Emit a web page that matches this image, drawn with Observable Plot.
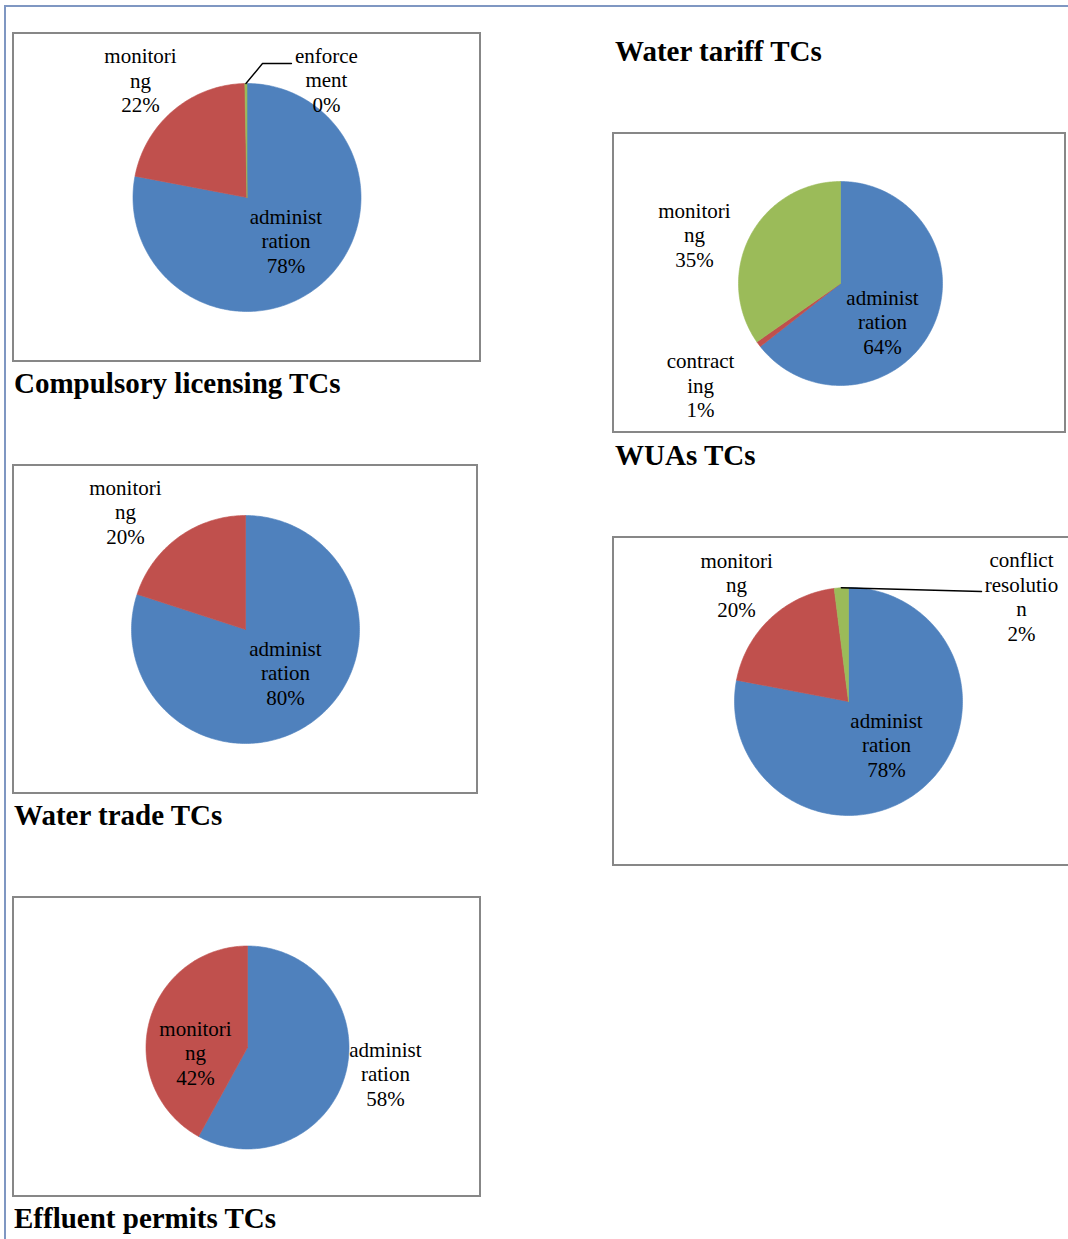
<!DOCTYPE html>
<html>
<head>
<meta charset="utf-8">
<script src="https://cdn.jsdelivr.net/npm/d3@7"></script>
<script src="https://cdn.jsdelivr.net/npm/@observablehq/plot@0.6"></script>
<style>
  html, body { margin: 0; padding: 0; background: #fff; }
  #page { position: relative; width: 1068px; height: 1239px; overflow: hidden; background: #fff; }
  .frame { position: absolute; left: 4px; top: 5px; width: 1100px; height: 1300px;
           border-top: 2px solid #7f97c2; border-left: 2px solid #7f97c2; box-sizing: border-box; }
  .box { position: absolute; border: 2px solid #878787; box-sizing: border-box; background: #fff; }
  .box svg { position: absolute; left: 0; top: 0; }
  .title { position: absolute; font-family: "Liberation Serif", "Times New Roman", serif;
           font-weight: bold; font-size: 29px; line-height: 29px; color: #000; white-space: nowrap; }
</style>
</head>
<body>
<div id="page"><div class="frame"></div></div>
<script>
// ---------------- data ----------------
const seriesColors = ["#4F81BD", "#C0504D", "#9BBB59"];

// Compulsory licensing TCs
const clCategories = ["administ\nration", "monitori\nng", "enforce\nment"];
const clValues = [78, 21.7, 0.3];

// Water trade TCs
const wtCategories = ["administ\nration", "monitori\nng"];
const wtValues = [80, 20];

// Effluent permits TCs
const epCategories = ["administ\nration", "monitori\nng"];
const epValues = [58, 42];

// WUAs TCs
const wuCategories = ["administ\nration", "contract\ning", "monitori\nng"];
const wuValues = [64.4, 0.9, 34.7];

// Water tariff TCs
const tfCategories = ["administ\nration", "monitori\nng", "conflict\nresolutio\nn"];
const tfValues = [78, 20, 2];

// titles
const titles = ["Compulsory licensing TCs", "Water trade TCs", "Effluent permits TCs", "Water tariff TCs", "WUAs TCs"];

// ---------------- layout ----------------
const panels = [
  { cats: clCategories, vals: clValues, box: [12, 32, 469, 330], center: [246.5, 197], r: 114,
    labels: [{k: 0.52, deg: 139}, {k: 1.38, deg: 317.4}, {k: 1.233, deg: 34.4}],
    leader: {slice: 2, end: [[0.136, -1.175], [0.39, -1.175]]} },
  { cats: wtCategories, vals: wtValues, box: [12, 464, 466, 330], center: [245, 629], r: 114,
    labels: [{k: 0.528, deg: 138.4}, {k: 1.464, deg: 314}] },
  { cats: epCategories, vals: epValues, box: [12, 896, 469, 301], center: [247, 1047], r: 101.5,
    labels: [{k: 1.387, deg: 101.5}, {k: 0.517, deg: 262.3}] },
  { cats: wuCategories, vals: wuValues, box: [612, 132, 454, 301], center: [840, 283], r: 102,
    labels: [{k: 0.569, deg: 133.6}, {k: 1.704, deg: 233.6}, {k: 1.504, deg: 287.8}] },
  { cats: tfCategories, vals: tfValues, box: [612, 536, 468, 330], center: [848, 701], r: 114,
    labels: [{k: 0.517, deg: 139.8}, {k: 1.408, deg: 315.8}, {k: 1.768, deg: 59.1}],
    leader: {slice: 2, end: [[1.167, -0.965]]} }
];
const titleBaselines = [[14, 393], [14, 825], [14, 1228], [615, 61], [615, 465]];

const page = document.getElementById("page");
const FONT = "'Liberation Serif', 'Times New Roman', serif";

function piePlot(p) {
  const W = p.box[2] - 4, H = p.box[3] - 4;
  const ox = p.box[0] + 2, oy = p.box[1] + 2;
  const cx = p.center[0] - ox, cy = p.center[1] - oy, r = p.r;
  const total = d3.sum(p.vals);
  let acc = 0;
  const pts = [], mids = [];
  p.vals.forEach((v, i) => {
    const t0 = acc / total, t1 = (acc + v) / total; acc += v;
    mids.push((t0 + t1) / 2);
    const n = Math.max(2, Math.ceil((t1 - t0) * 360));
    pts.push({s: i, x: 0, y: 0});
    for (let j = 0; j <= n; j++) {
      const a = 2 * Math.PI * (t0 + (t1 - t0) * j / n);
      pts.push({s: i, x: Math.sin(a), y: -Math.cos(a)});
    }
    pts.push({s: i, x: 0, y: 0});
  });
  const labels = p.vals.map((v, i) => {
    const L = p.labels[i];
    const a = L.deg * Math.PI / 180;
    return {x: L.k * Math.sin(a), y: -L.k * Math.cos(a), text: p.cats[i] + "\n" + Math.round(v) + "%"};
  });
  const marks = [
    Plot.line(pts, {x: "x", y: "y", z: "s", fill: d => seriesColors[d.s], stroke: d => seriesColors[d.s], strokeWidth: 0.6, curve: "linear"})
  ];
  if (p.leader) {
    const a = 2 * Math.PI * mids[p.leader.slice];
    const lp = [{x: Math.sin(a), y: -Math.cos(a)}].concat(p.leader.end.map(e => ({x: e[0], y: e[1]})));
    marks.push(Plot.line(lp, {x: "x", y: "y", stroke: "#000", strokeWidth: 1.4, curve: "linear"}));
  }
  marks.push(Plot.text(labels, {x: "x", y: "y", text: "text", fontFamily: FONT, fontSize: 21, lineHeight: 1.17, fill: "#000", textAnchor: "middle", dy: -2}));
  const svg = Plot.plot({
    width: W, height: H, margin: 0,
    x: {domain: [-cx / r, (W - cx) / r], range: [0, W], axis: null},
    y: {domain: [-cy / r, (H - cy) / r], range: [0, H], axis: null},
    color: {type: "identity"},
    style: {background: "transparent", overflow: "visible", fontFamily: FONT},
    marks
  });
  const div = document.createElement("div");
  div.className = "box";
  div.style.left = p.box[0] + "px";
  div.style.top = p.box[1] + "px";
  div.style.width = p.box[2] + "px";
  div.style.height = p.box[3] + "px";
  div.appendChild(svg);
  page.appendChild(div);
}
panels.forEach(piePlot);

titles.forEach((t, i) => {
  const d = document.createElement("div");
  d.className = "title";
  d.textContent = t;
  d.style.left = titleBaselines[i][0] + "px";
  d.style.top = (titleBaselines[i][1] - 24.3) + "px";
  page.appendChild(d);
});
</script>
</body>
</html>
